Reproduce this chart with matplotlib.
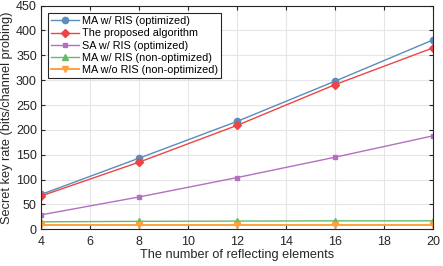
import matplotlib
matplotlib.use("Agg")
import matplotlib.pyplot as plt

plt.rcParams['font.family'] = ['Liberation Sans', 'DejaVu Sans']

elements = [4, 8, 12, 16, 20]
ma_ris_opt = [70, 143, 217, 298, 381]
proposed = [67, 135, 209, 291, 365]
sa_ris_opt = [29, 65, 104, 145, 188]
ma_ris_nonopt = [15, 16, 16.5, 17, 17]
ma_noris = [9, 9, 9, 9, 9]

fig = plt.figure(figsize=(4.43, 2.66), dpi=100)
ax = fig.add_axes([0.0926, 0.138, 0.885, 0.841])

ax.plot(elements, ma_ris_opt, color='#5a8dbd', marker='o', markersize=4.5, lw=1.0,
        label='MA w/ RIS (optimized)')
ax.plot(elements, proposed, color='#ee4444', marker='D', markersize=3.6, lw=1.0,
        label='The proposed algorithm')
ax.plot(elements, sa_ris_opt, color='#b370c0', marker='s', markersize=3.2, lw=1.0,
        label='SA w/ RIS (optimized)')
ax.plot(elements, ma_ris_nonopt, color='#66bb66', marker='^', markersize=4.5, lw=1.0,
        label='MA w/ RIS (non-optimized)')
ax.plot(elements, ma_noris, color='#ffa040', marker='v', markersize=4.5, lw=1.4,
        label='MA w/o RIS (non-optimized)')

ax.set_xlim(4, 20)
ax.set_ylim(0, 450)
ax.set_xticks(range(4, 21, 2))
ax.set_yticks(range(0, 451, 50))
ax.grid(True, color='#e6e6e6', lw=0.8)
ax.tick_params(direction='in', labelsize=9, colors='#262626', length=3,
               top=True, right=True, pad=3)
ax.tick_params(axis='x', pad=4.5)
for s in ax.spines.values():
    s.set_color('#262626')
    s.set_linewidth(0.8)
ax.set_xlabel('The number of reflecting elements', fontsize=9.2, color='#262626', labelpad=1)
ax.set_ylabel('Secret key rate (bits/channel probing)', fontsize=9.2, color='#262626', labelpad=2)

leg = ax.legend(loc='upper left', fontsize=7.8, handlelength=2.6, borderpad=0.3,
                labelspacing=0.2, handletextpad=0.25, fancybox=False, framealpha=1,
                edgecolor='#262626', bbox_to_anchor=(0.018, 0.967), borderaxespad=0)
leg.get_frame().set_linewidth(0.8)

fig.savefig('out.png', dpi=100)
